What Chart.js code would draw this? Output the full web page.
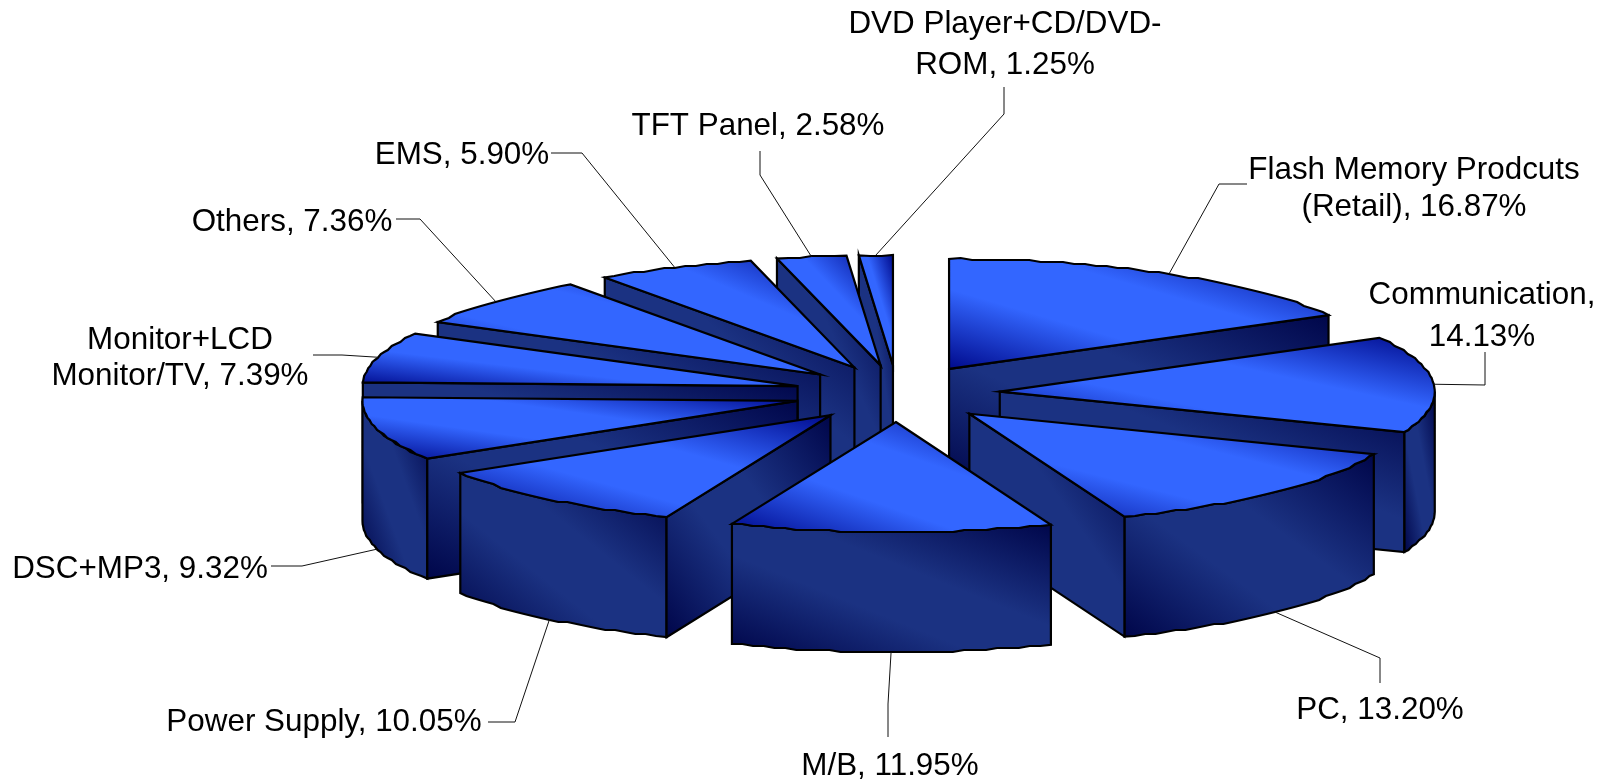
<!DOCTYPE html>
<html>
<head>
<meta charset="utf-8">
<style>html,body{margin:0;padding:0;background:#fff}canvas{display:block}</style>
<script src="https://cdn.jsdelivr.net/npm/chart.js@4"></script>
</head>
<body>
<canvas id="c" width="1600" height="784"></canvas>
<script>
const categories = ["Flash Memory Prodcuts (Retail)","Communication","PC","M/B","Power Supply","DSC+MP3","Monitor+LCD Monitor/TV","Others","EMS","TFT Panel","DVD Player+CD/DVD-ROM"];
const shares = [16.87,14.13,13.20,11.95,10.05,9.32,7.39,7.36,5.90,2.58,1.25];

// text layout per label: line splits, centre x, line centre y values
const labelLines = [
  ["Flash Memory Prodcuts","(Retail), "],["Communication,",""],["PC, "],["M/B, "],["Power Supply, "],["DSC+MP3, "],
  ["Monitor+LCD","Monitor/TV, "],["Others, "],["EMS, "],["TFT Panel, "],["DVD Player+CD/DVD-","ROM, "]
];
const labelX = [1414,1482,1380,890,324,140,180,292,462,758,1005];
const labelY = [[170,207],[295,337],[710],[766],[722],[569],[340,376],[222],[155],[126],[24,65]];
// leader line bends (two points after the slice anchor)
const leaderBends = [
  [[1219,184],[1247,184]],[[1485,385],[1485,352]],[[1380,658],[1380,683]],[[888,704],[888,737]],
  [[515,722],[488,722]],[[302,566],[271,566]],[[342,355],[313,355]],[[420,219],[396,219]],
  [[582,153],[551,153]],[[760,175],[760,151]],[[1004,114],[1004,87]]
];
const view = {cx:897, cy:393.5, rx:435, ry:110, depth:120, ox:103/86, oy:28.5/86};
const topStops  = [[0,"#000a8c"],[0.36,"#3366ff"],[0.62,"#3366ff"],[1,"#000a8c"]];
const wallStops = [[0,"#00064a"],[0.38,"#1b3282"],[0.6,"#1b3282"],[1,"#00064a"]];

function fillFace(ctx, pts, stops){
  const xs = pts.map(p=>p[0]), ys = pts.map(p=>p[1]);
  const x0=Math.min(...xs), x1=Math.max(...xs), y0=Math.min(...ys), y1=Math.max(...ys);
  const path = new Path2D();
  pts.forEach((p,i)=> i? path.lineTo(p[0],p[1]) : path.moveTo(p[0],p[1]));
  path.closePath();
  ctx.save();
  ctx.clip(path);
  ctx.translate(x0,y0);
  ctx.scale(Math.max(x1-x0,1),Math.max(y1-y0,1));
  const g = ctx.createLinearGradient(0,1,1,0);
  stops.forEach(s=>g.addColorStop(s[0],s[1]));
  ctx.fillStyle = g;
  ctx.fillRect(0,0,1,1);
  ctx.restore();
  ctx.lineWidth = 2.2;
  ctx.lineJoin = "miter";
  ctx.strokeStyle = "#000";
  ctx.stroke(path);
}

const pie3d = {
  id:"pie3d",
  beforeDatasetDraw(chart){
    const ctx = chart.ctx;
    const meta = chart.getDatasetMeta(0);
    const slices = meta.data.map((arc,i)=>{
      const p = arc.getProps(["x","y","startAngle","endAngle","outerRadius"],true);
      const off = arc.options.offset;
      const mid = (p.startAngle+p.endAngle)/2;
      const ax = view.cx + view.ox*off*Math.cos(mid), ay = view.cy + view.oy*off*Math.sin(mid);
      const rim = a => [ax+view.rx*Math.cos(a), ay+view.ry*Math.sin(a)];
      return {i,a0:p.startAngle,a1:p.endAngle,mid,ax,ay,rim};
    });
    const rimPts = (s,a0,a1)=>{
      const n = Math.max(2,Math.round((a1-a0)/(1.5*Math.PI/180)));
      const out=[];
      for(let k=0;k<=n;k++){
        const q = s.rim(a0+(a1-a0)*k/n);
        if(k>0&&k<n) q[1]=Math.round(q[1]/2)*2;
        out.push(q);
      }
      return out;
    };
    const d = view.depth;
    [...slices].sort((a,b)=>a.ay-b.ay).forEach(s=>{
      // outer wall: angles with sin(a) > 0 face the viewer
      for(const base of [0,2*Math.PI,-2*Math.PI]){
        const lo=Math.max(s.a0,base), hi=Math.min(s.a1,base+Math.PI);
        if(hi>lo){
          const t=rimPts(s,lo,hi);
          const b=t.map(q=>[q[0],q[1]+d]).reverse();
          fillFace(ctx,t.concat(b),wallStops);
        }
      }
      // radial walls: visible if the outward normal points down the screen
      const wall = a=>{
        const r=s.rim(a);
        fillFace(ctx,[[s.ax,s.ay],r,[r[0],r[1]+d],[s.ax,s.ay+d]],wallStops);
      };
      if(Math.sin(s.a0-Math.PI/2)>1e-6) wall(s.a0);
      if(Math.sin(s.a1+Math.PI/2)>1e-6) wall(s.a1);
      fillFace(ctx,[[s.ax,s.ay]].concat(rimPts(s,s.a0,s.a1)),topStops);
    });
    // leaders and labels
    ctx.save();
    ctx.strokeStyle="#111";
    ctx.lineWidth=1;
    slices.forEach(s=>{
      const r=s.rim(s.mid);
      const y=r[1]+(Math.sin(s.mid)>0?d:0);
      ctx.beginPath();
      ctx.moveTo(r[0],y);
      leaderBends[s.i].forEach(b=>ctx.lineTo(b[0],b[1]));
      ctx.stroke();
    });
    ctx.fillStyle="#000";
    ctx.font='31.4px "Liberation Sans", Arial, sans-serif';
    ctx.textAlign="center";
    ctx.textBaseline="middle";
    categories.forEach((c,i)=>{
      const lines=labelLines[i], n=lines.length;
      lines.forEach((t,k)=>{
        const txt = k===n-1 ? t+shares[i].toFixed(2)+"%" : t;
        ctx.fillText(txt,labelX[i],labelY[i][k]);
      });
    });
    ctx.restore();
    return false;
  }
};

new Chart(document.getElementById("c"),{
  type:"pie",
  data:{labels:categories,datasets:[{data:shares,offset:86,borderWidth:0,hoverOffset:0}]},
  options:{
    responsive:false,
    animation:false,
    layout:{padding:{left:190,right:0,top:2,bottom:0}},
    plugins:{legend:{display:false},tooltip:{enabled:false}}
  },
  plugins:[pie3d]
});
</script>
</body>
</html>
